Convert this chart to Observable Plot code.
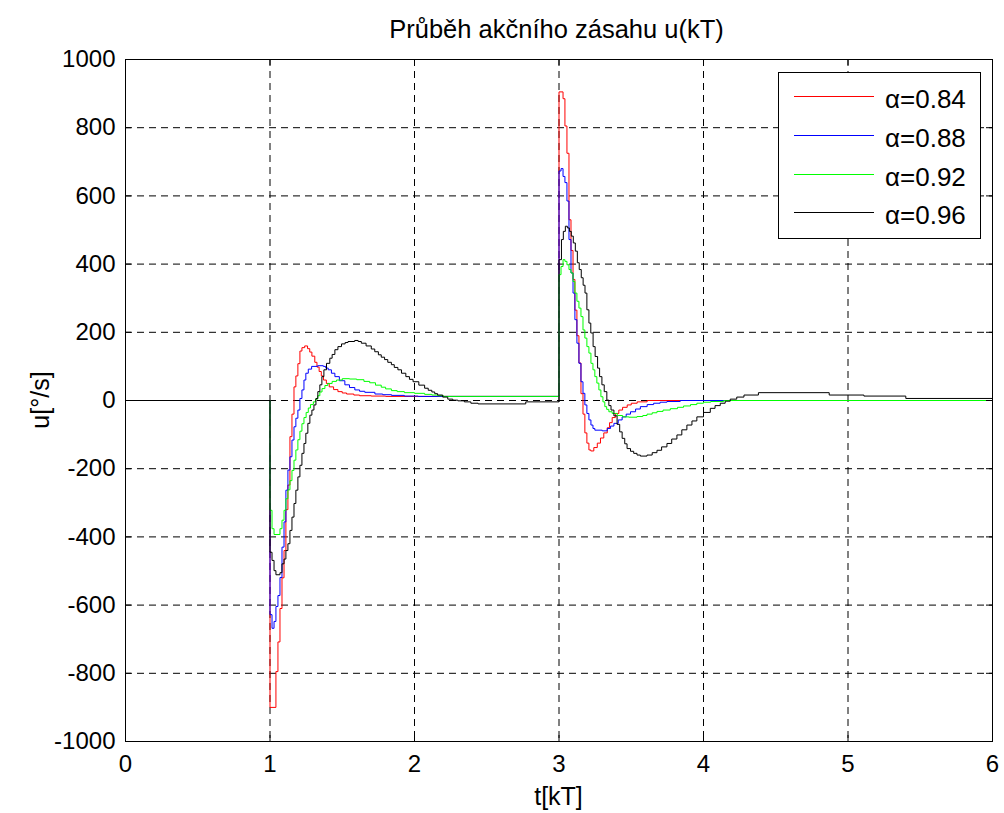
<!DOCTYPE html>
<html>
<head>
<meta charset="utf-8">
<script src="https://cdn.jsdelivr.net/npm/d3@7"></script>
<script src="https://cdn.jsdelivr.net/npm/@observablehq/plot@0.6"></script>
<style>
  body { margin: 0; background: #fff; }
  svg { font-family: "Liberation Sans", Arial, Helvetica, sans-serif; }
</style>
</head>
<body>
<div id="chart"></div>
<script>
// ---- data (t in kT, u in °/s), step-after samples ----
const red = [
  [0,0],[1,-900],[1.041,-795],[1.055,-708],[1.069,-610],[1.083,-520],[1.097,-440],[1.110,-320],[1.124,-248],
  [1.138,-106],[1.152,-40],[1.166,40],[1.179,72],[1.193,108],[1.207,145],[1.221,155],[1.240,160],[1.26,152],
  [1.275,142],[1.29,130],[1.31,112],[1.325,98],[1.34,85],[1.355,72],[1.37,60],[1.39,50],[1.41,40],[1.44,32],
  [1.47,26],[1.5,22],[1.53,19],[1.58,16],[1.62,14],[1.7,13],[1.8,12],
  [3.0,905],[3.028,885],[3.041,805],[3.055,725],[3.069,530],[3.083,440],[3.097,355],[3.110,265],[3.124,190],
  [3.138,110],[3.152,20],[3.166,-40],[3.179,-95],[3.193,-125],[3.207,-145],[3.22,-148],[3.241,-138],[3.265,-125],
  [3.287,-110],[3.31,-95],[3.334,-80],[3.35,-65],[3.368,-50],[3.39,-38],[3.414,-28],[3.44,-20],[3.472,-13],
  [3.5,-8],[3.541,-4],[3.61,0],[6,0]
];
const blue = [
  [0,0],[1,-628],[1.014,-668],[1.028,-648],[1.041,-604],[1.055,-572],[1.069,-519],[1.083,-430],[1.097,-356],
  [1.110,-263],[1.124,-204],[1.138,-165],[1.152,-116],[1.166,-77],[1.179,-52],[1.193,-28],[1.207,6],[1.221,31],
  [1.235,60],[1.248,80],[1.265,92],[1.288,100],[1.33,102],[1.369,100],[1.386,95],[1.403,90],[1.425,80],[1.449,70],
  [1.48,58],[1.518,46],[1.55,38],[1.587,31],[1.62,27],[1.656,24],[1.726,19],[1.78,17],[1.841,15],[1.93,13],[2.025,12],
  [3,673],[3.014,680],[3.028,657],[3.041,639],[3.055,585],[3.069,472],[3.083,374],[3.097,315],[3.110,237],
  [3.124,168],[3.138,109],[3.152,55],[3.166,21],[3.179,-13],[3.193,-38],[3.207,-57],[3.221,-72],[3.235,-82],
  [3.248,-87],[3.299,-89],[3.334,-82],[3.357,-75],[3.380,-67],[3.41,-57],[3.437,-48],[3.465,-40],[3.495,-33],
  [3.53,-25],[3.563,-18],[3.61,-12],[3.655,-8],[3.7,-5],[3.747,-3],[3.839,0],[6,0]
];
const green = [
  [0,0],[1,-322],[1.014,-376],[1.028,-393],[1.069,-376],[1.083,-351],[1.097,-322],[1.110,-288],[1.124,-262],
  [1.138,-235],[1.152,-205],[1.166,-175],[1.179,-145],[1.193,-115],[1.207,-90],[1.221,-68],[1.235,-50],[1.25,-35],
  [1.265,-22],[1.28,-12],[1.3,-4],[1.315,4],[1.33,14],[1.345,25],[1.36,35],[1.38,44],[1.4,50],[1.43,56],[1.46,60],
  [1.5,64],[1.55,63],[1.6,61],[1.65,56],[1.69,52],[1.73,45],[1.77,39],[1.8,34],[1.84,29],[1.88,26],[1.93,23],
  [2.0,21],[2.07,18],[2.12,16],[2.16,14],[2.2,12],
  [3,369],[3.014,393],[3.028,413],[3.041,408],[3.055,398],[3.069,384],[3.083,374],[3.097,349],[3.110,315],
  [3.124,291],[3.138,271],[3.152,246],[3.166,207],[3.179,183],[3.193,158],[3.207,139],[3.221,109],[3.235,90],
  [3.248,70],[3.262,51],[3.276,31],[3.290,11],[3.304,-4],[3.317,-18],[3.33,-26],[3.345,-33],[3.368,-38],
  [3.403,-44],[3.44,-48],[3.483,-49],[3.54,-47],[3.58,-44],[3.609,-40],[3.645,-36],[3.678,-32],[3.72,-28],
  [3.77,-24],[3.82,-20],[3.862,-16],[3.91,-12],[3.954,-8],[4.0,-5],[4.05,-3],[4.14,0],[6,0]
];
const black = [
  [0,0],[1,-445],[1.014,-469],[1.028,-499],[1.041,-511],[1.069,-505],[1.083,-479],[1.097,-465],[1.110,-440],
  [1.124,-420],[1.138,-381],[1.152,-342],[1.166,-302],[1.179,-263],[1.193,-224],[1.207,-190],[1.221,-155],
  [1.235,-126],[1.248,-96],[1.262,-67],[1.276,-43],[1.290,-28],[1.304,-13],[1.318,6],[1.331,26],[1.345,46],
  [1.359,70],[1.373,90],[1.391,109],[1.414,124],[1.43,135],[1.449,149],[1.47,158],[1.495,166],[1.52,170],
  [1.540,173],[1.586,176],[1.61,173],[1.632,168],[1.665,160],[1.701,151],[1.725,143],[1.75,134],[1.77,127],
  [1.793,120],[1.815,112],[1.84,105],[1.86,97],[1.885,90],[1.91,80],[1.94,70],[1.965,62],[1.99,55],[2.03,45],
  [2.07,36],[2.095,30],[2.12,25],[2.14,20],[2.16,16],[2.195,10],[2.23,4],[2.265,1],[2.30,-1],[2.345,-4],
  [2.39,-8],[2.44,-10],[2.77,-4],
  [3.0,413],[3.017,472],[3.030,496],[3.044,511],[3.058,506],[3.072,496],[3.085,482],[3.099,462],[3.113,438],
  [3.127,404],[3.140,384],[3.154,360],[3.167,338],[3.18,315],[3.193,266],[3.207,227],[3.22,198],[3.236,158],
  [3.25,129],[3.267,95],[3.281,70],[3.297,46],[3.313,26],[3.331,1],[3.345,-15],[3.36,-28],[3.38,-45],
  [3.402,-70],[3.42,-92],[3.437,-111],[3.455,-127],[3.471,-141],[3.495,-149],[3.517,-155],[3.54,-160],
  [3.563,-163],[3.609,-160],[3.645,-153],[3.678,-146],[3.71,-136],[3.747,-126],[3.78,-113],[3.816,-101],
  [3.85,-86],[3.885,-72],[3.92,-60],[3.954,-48],[4.0,-35],[4.047,-23],[4.08,-15],[4.116,-8],[4.15,-2],
  [4.185,4],[4.23,10],[4.28,16],[4.38,23],[4.87,16],[5.11,13],[5.40,6],[6,6]
];
const seriesNames = ["α=0.84", "α=0.88", "α=0.92", "α=0.96"];
const seriesColors = ["#ff0000", "#0000ff", "#00ff00", "#000000"];
const xTicks = [0, 1, 2, 3, 4, 5, 6];
const yTicks = [-1000, -800, -600, -400, -200, 0, 200, 400, 600, 800, 1000];
const titleText = "Průběh akčního zásahu u(kT)";
const xLabel = "t[kT]";
const yLabel = "u[°/s]";

// ---- layout ----
const W = 1004, H = 813, mL = 125, mR = 12, mT = 59, mB = 72;
const plotW = W - mL - mR, plotH = H - mT - mB;
const tick = 6;
const font = '"Liberation Sans", Arial, Helvetica, sans-serif';

const rows = [red, blue, green, black].flatMap((s, i) =>
  s.map(([t, u]) => ({t, u, s: seriesNames[i]})));

const svg = Plot.plot({
  width: W, height: H,
  marginLeft: mL, marginRight: mR, marginTop: mT, marginBottom: mB,
  style: {fontFamily: font, fontSize: "24px", color: "#000", background: "#fff"},
  x: {domain: [0, 6]},
  y: {domain: [-1000, 1000]},
  color: {domain: seriesNames, range: seriesColors},
  marks: [
    Plot.gridX(xTicks, {stroke: "#000", strokeOpacity: 1, strokeWidth: 1, strokeDasharray: "7,5"}),
    Plot.gridY(yTicks, {stroke: "#000", strokeOpacity: 1, strokeWidth: 1, strokeDasharray: "7,5"}),
    Plot.line(rows, {x: "t", y: "u", z: "s", stroke: "s", curve: "step-after", strokeWidth: 1}),
    // inward MATLAB-style ticks on all four sides
    Plot.ruleX(xTicks, {x: d => d, stroke: "#000", insetTop: plotH - tick}),
    Plot.ruleX(xTicks, {x: d => d, stroke: "#000", insetBottom: plotH - tick}),
    Plot.ruleY(yTicks, {y: d => d, stroke: "#000", insetRight: plotW - tick}),
    Plot.ruleY(yTicks, {y: d => d, stroke: "#000", insetLeft: plotW - tick}),
    Plot.frame({stroke: "#000", strokeWidth: 1}),
    Plot.axisX(xTicks, {tickSize: 0, tickPadding: 13, label: null, fontSize: 24, tickFormat: d => String(d)}),
    Plot.axisY(yTicks, {tickSize: 0, tickPadding: 10, label: null, fontSize: 24, tickFormat: d => String(d)})
  ]
});

const root = d3.select(svg);
// title and axis labels
root.append("text").attr("x", mL + plotW / 2 - 2).attr("y", 38).attr("text-anchor", "middle")
  .attr("font-size", 25.5).attr("fill", "#000").text(titleText);
root.append("text").attr("x", mL + plotW / 2).attr("y", 805).attr("text-anchor", "middle")
  .attr("font-size", 25).attr("fill", "#000").text(xLabel);
root.append("text").attr("transform", `translate(49,${mT + plotH / 2}) rotate(-90)`)
  .attr("text-anchor", "middle").attr("font-size", 25).attr("fill", "#000").text(yLabel);

// legend box (top-right, inside axes)
const lg = root.append("g").attr("text-anchor", "start");
lg.append("rect").attr("x", 778.5).attr("y", 72.5).attr("width", 202).attr("height", 166)
  .attr("fill", "#fff").attr("stroke", "#000").attr("stroke-width", 1);
const rowY = [96.5, 135.5, 174.5, 212.5];
seriesNames.forEach((name, i) => {
  lg.append("line").attr("x1", 794).attr("x2", 874).attr("y1", rowY[i]).attr("y2", rowY[i])
    .attr("stroke", seriesColors[i]).attr("stroke-width", 1);
  lg.append("text").attr("x", 885).attr("y", rowY[i] + 11).attr("font-size", 26)
    .attr("text-anchor", "start").attr("fill", "#000").text(name);
});

document.getElementById("chart").appendChild(svg);
</script>
</body>
</html>
